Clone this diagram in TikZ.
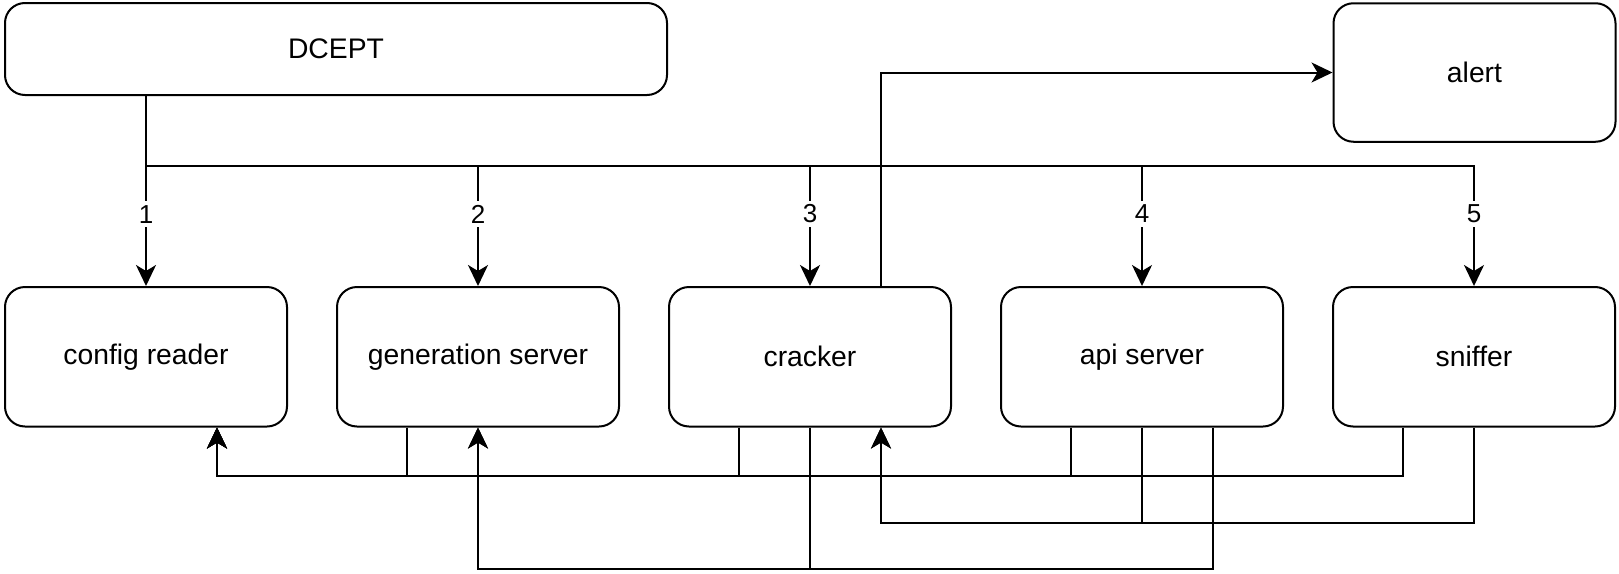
\documentclass[tikz,border=0pt]{standalone}
\usepackage{fontspec}
\setmainfont{Liberation Sans}
\usetikzlibrary{arrows.meta,calc}
\begin{document}
\begin{tikzpicture}[x=1pt,y=-1pt,
  box/.style={draw, line width=2pt, rounded corners=20pt, minimum width=282pt, minimum height=139.5pt, inner sep=0pt, font=\fontsize{28.3}{34}\selectfont},
  arr/.style={line width=2pt, -{Stealth[length=21pt,width=20pt,inset=6pt]}},
  ln/.style={line width=2pt},
  lbl/.style={fill=white, inner xsep=2pt, inner ysep=4pt, font=\fontsize{26}{30}\selectfont}]
\useasboundingbox (0,0) rectangle (1619,573);
% nodes
\node[box, minimum width=662pt, minimum height=92pt] (dcept) at (336,49) {DCEPT};
\node[box, minimum height=138.5pt] (alert) at (1474.5,72.5) {alert};
\node[box] (cfg) at (146,356.75) {config reader};
\node[box] (gen) at (478,356.75) {generation server};
\node[box] (crk) at (810,356.75) {cracker};
\node[box] (api) at (1142,356.75) {api server};
\node[box] (snf) at (1474,356.75) {sniffer};
% helper coordinates
\coordinate (yT) at (0,166);
\coordinate (yA) at (0,476);
\coordinate (yB) at (0,522.5);
\coordinate (yC) at (0,569);
\coordinate (crkTop) at ($(crk.north west)!0.75!(crk.north east)$);
\coordinate (cfgIn) at ($(cfg.south west)!0.75!(cfg.south east)$);
\coordinate (crkIn) at ($(crk.south west)!0.75!(crk.south east)$);
\coordinate (genIn) at (gen.south);
\coordinate (genA) at ($(gen.south west)!0.25!(gen.south east)$);
\coordinate (crkA) at ($(crk.south west)!0.25!(crk.south east)$);
\coordinate (apiA) at ($(api.south west)!0.25!(api.south east)$);
\coordinate (snfA) at ($(snf.south west)!0.25!(snf.south east)$);
\coordinate (apiC) at ($(api.south west)!0.75!(api.south east)$);
% DCEPT to row
\draw[arr] (dcept.south -| cfg.north) -- node[lbl, pos=0.622] {1} (cfg.north);
\draw[arr] (dcept.south -| cfg.north) |- (yT -| gen.north) -- node[lbl, pos=0.4] {2} (gen.north);
\draw[arr] (dcept.south -| cfg.north) |- (yT -| crk.north) -- node[lbl, pos=0.4] {3} (crk.north);
\draw[arr] (dcept.south -| cfg.north) |- (yT -| api.north) -- node[lbl, pos=0.4] {4} (api.north);
\draw[arr] (dcept.south -| cfg.north) |- (yT -| snf.north) -- node[lbl, pos=0.4] {5} (snf.north);
% cracker to alert
\draw[arr] (crkTop) |- (alert.west);
% to config reader
\draw[arr] (genA) |- (yA -| cfgIn) -- (cfgIn);
\draw[arr] (crkA) |- (yA -| cfgIn) -- (cfgIn);
\draw[arr] (apiA) |- (yA -| cfgIn) -- (cfgIn);
\draw[arr] (snfA) |- (yA -| cfgIn) -- (cfgIn);
% to cracker
\draw[arr] (api.south) |- (yB -| crkIn) -- (crkIn);
\draw[arr] (snf.south) |- (yB -| crkIn) -- (crkIn);
% to generation server
\draw[arr] (crk.south) |- (yC -| genIn) -- (genIn);
\draw[arr] (apiC) |- (yC -| genIn) -- (genIn);
\end{tikzpicture}
\end{document}
